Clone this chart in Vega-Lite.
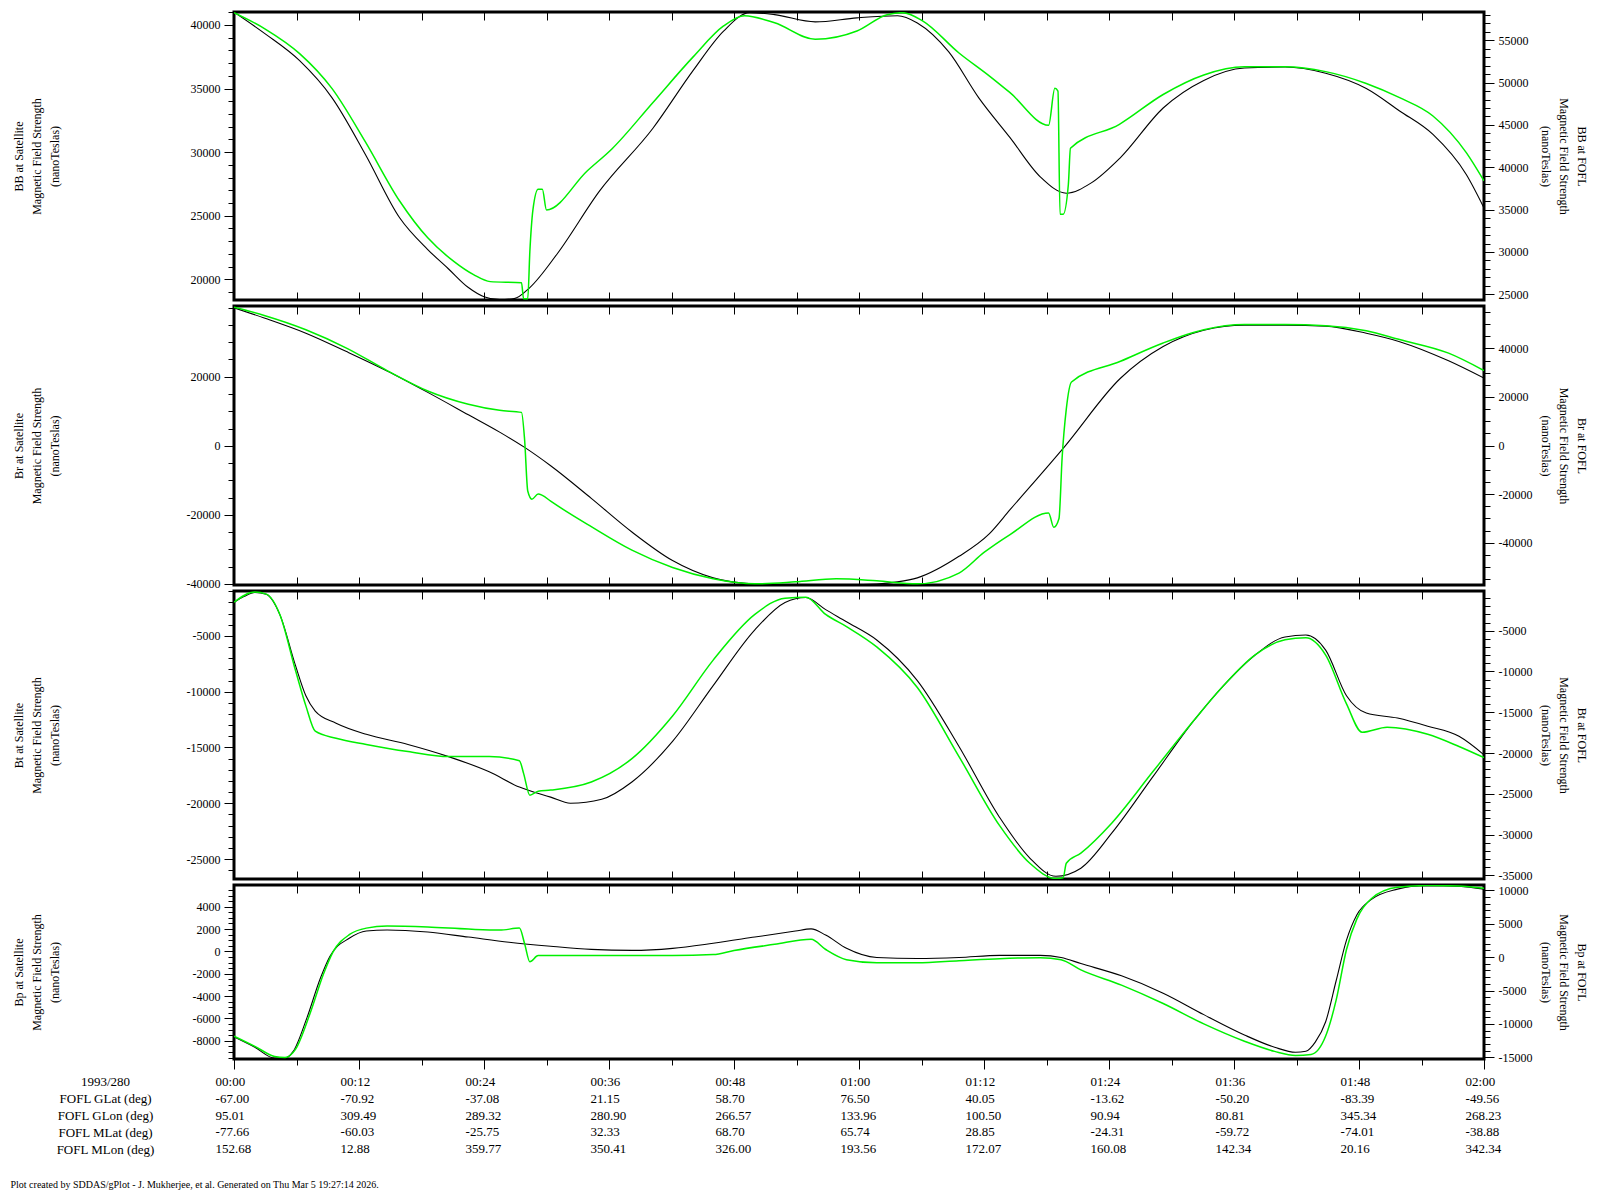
{
  "$schema": "https://vega.github.io/schema/vega-lite/v6.json",
  "background": "white",
  "padding": {"left": 10, "top": 4, "right": 5, "bottom": 5},
  "bounds": "flush",
  "spacing": 6,
  "title": {
    "text": "Plot created by SDDAS/gPlot - J. Mukherjee, et al.  Generated on Thu Mar 5 19:27:14 2026.",
    "orient": "bottom", "anchor": "start", "frame": "bounds",
    "font": "Liberation Serif", "fontSize": 10, "fontWeight": "normal", "color": "black", "offset": 14
  },
  "datasets": {
    "bb_sat": [
      {"t":0,"v":41010},{"t":3.0,"v":39300},{"t":6.3,"v":37190},{"t":9.4,"v":34290},{"t":12.6,"v":29840},{"t":15.9,"v":24840},{"t":18.6,"v":22340},{"t":20.6,"v":20810},{"t":22.5,"v":19350},{"t":24.0,"v":18630},{"t":25.5,"v":18400},{"t":26.9,"v":18480},{"t":28.4,"v":19350},{"t":31.0,"v":21970},{"t":35.1,"v":26950},{"t":40.2,"v":31860},{"t":44.1,"v":36450},{"t":47.0,"v":39520},{"t":49.5,"v":40970},{"t":51.9,"v":40810},{"t":55.8,"v":40240},{"t":59.8,"v":40560},{"t":63.7,"v":40730},{"t":65.6,"v":40160},{"t":68.6,"v":37900},{"t":71.5,"v":34270},{"t":74.5,"v":31140},{"t":77.4,"v":28060},{"t":79.9,"v":26770},{"t":82.3,"v":27580},{"t":85.1,"v":29570},{"t":89.2,"v":33470},{"t":93.1,"v":35640},{"t":97.0,"v":36610},{"t":100.9,"v":36690},{"t":104.8,"v":36200},{"t":108.7,"v":35000},{"t":111.9,"v":33240},{"t":115.1,"v":31390},{"t":118.3,"v":28240},{"t":120,"v":25610}
    ],
    "bb_fofl": [
      {"t":0,"v":58260},{"t":3.0,"v":56330},{"t":6.3,"v":53430},{"t":9.4,"v":49320},{"t":12.6,"v":43030},{"t":15.9,"v":36020},{"t":18.6,"v":31670},{"t":21.1,"v":28890},{"t":23.0,"v":27320},{"t":24.6,"v":26500},{"t":27.6,"v":26380},{"t":27.8,"v":24490},{"t":28.2,"v":24490},{"t":28.4,"v":30000},{"t":28.7,"v":35000},{"t":29.2,"v":37410},{"t":29.6,"v":37410},{"t":30.0,"v":34960},{"t":33.9,"v":39570},{"t":36.3,"v":42200},{"t":40.2,"v":47630},{"t":44.1,"v":53070},{"t":47.0,"v":56690},{"t":49.0,"v":57900},{"t":51.9,"v":57060},{"t":55.8,"v":55120},{"t":59.8,"v":56090},{"t":62.7,"v":58020},{"t":64.2,"v":58260},{"t":66.1,"v":57300},{"t":69.6,"v":53500},{"t":72.5,"v":50800},{"t":74.5,"v":48810},{"t":78.2,"v":44960},{"t":78.8,"v":49330},{"t":79.1,"v":49000},{"t":79.3,"v":34460},{"t":79.6,"v":34460},{"t":80.1,"v":38000},{"t":80.3,"v":42250},{"t":85.0,"v":45080},{"t":89.2,"v":48600},{"t":93.1,"v":50900},{"t":97.0,"v":51860},{"t":100.9,"v":51860},{"t":104.8,"v":51300},{"t":108.7,"v":49900},{"t":111.9,"v":48220},{"t":115.1,"v":46060},{"t":118.3,"v":41730},{"t":120,"v":38390}
    ],
    "br_sat": [
      {"t":0,"v":39940},{"t":2.9,"v":37000},{"t":6.9,"v":32600},{"t":10.8,"v":27260},{"t":14.7,"v":21650},{"t":18.6,"v":15460},{"t":22.5,"v":8970},{"t":25.5,"v":3950},{"t":27.9,"v":-470},{"t":30.4,"v":-5780},{"t":34.3,"v":-15220},{"t":38.2,"v":-24960},{"t":42.1,"v":-33220},{"t":46.0,"v":-38230},{"t":50.0,"v":-40000},{"t":53.9,"v":-40300},{"t":57.8,"v":-40300},{"t":61.7,"v":-40000},{"t":63.7,"v":-39400},{"t":65.6,"v":-38230},{"t":69.6,"v":-32000},{"t":72.5,"v":-25500},{"t":74.5,"v":-18500},{"t":79.8,"v":0},{"t":85.1,"v":19540},{"t":89.2,"v":28730},{"t":93.1,"v":33450},{"t":97.0,"v":34930},{"t":100.9,"v":34930},{"t":104.8,"v":34630},{"t":108.7,"v":32570},{"t":111.9,"v":30140},{"t":116.6,"v":24600},{"t":120,"v":19590}
    ],
    "br_fofl": [
      {"t":0,"v":56930},{"t":2.9,"v":53570},{"t":6.9,"v":47690},{"t":10.8,"v":40130},{"t":14.7,"v":30880},{"t":18.6,"v":22480},{"t":22.5,"v":17020},{"t":25.5,"v":14500},{"t":27.6,"v":13660},{"t":27.9,"v":2310},{"t":28.2,"v":-18700},{"t":28.6,"v":-22060},{"t":29.2,"v":-19960},{"t":29.6,"v":-20500},{"t":30.4,"v":-22900},{"t":34.3,"v":-33400},{"t":38.2,"v":-43070},{"t":42.1,"v":-50210},{"t":46.0,"v":-54830},{"t":50.0,"v":-56930},{"t":53.9,"v":-56090},{"t":57.8,"v":-54830},{"t":61.7,"v":-55670},{"t":65.6,"v":-56930},{"t":69.6,"v":-52500},{"t":72.0,"v":-44000},{"t":74.5,"v":-36630},{"t":78.2,"v":-27740},{"t":78.7,"v":-33620},{"t":79.2,"v":-30000},{"t":79.5,"v":-5000},{"t":79.9,"v":15000},{"t":80.4,"v":26170},{"t":85.1,"v":34690},{"t":89.2,"v":42230},{"t":93.1,"v":47690},{"t":97.0,"v":49790},{"t":100.9,"v":49790},{"t":104.8,"v":49370},{"t":108.7,"v":47270},{"t":111.9,"v":43620},{"t":116.6,"v":38030},{"t":120,"v":30880}
    ],
    "bt_sat": [
      {"t":0,"v":-2000},{"t":1.0,"v":-1450},{"t":2.0,"v":-1090},{"t":3.1,"v":-1270},{"t":4.4,"v":-3090},{"t":5.9,"v":-7640},{"t":6.9,"v":-10360},{"t":7.8,"v":-11730},{"t":9.8,"v":-12820},{"t":12.7,"v":-13820},{"t":16.7,"v":-14730},{"t":20.6,"v":-15820},{"t":24.5,"v":-17180},{"t":27.4,"v":-18550},{"t":30.4,"v":-19450},{"t":32.3,"v":-20000},{"t":35.3,"v":-19640},{"t":38.2,"v":-18090},{"t":42.1,"v":-14450},{"t":46.0,"v":-9450},{"t":50.0,"v":-4450},{"t":52.9,"v":-2000},{"t":54.9,"v":-1550},{"t":56.8,"v":-2640},{"t":58.8,"v":-3730},{"t":61.7,"v":-5360},{"t":65.6,"v":-9000},{"t":69.6,"v":-14910},{"t":73.5,"v":-21270},{"t":76.4,"v":-24910},{"t":78.9,"v":-26550},{"t":81.3,"v":-25820},{"t":84.3,"v":-22640},{"t":88.2,"v":-17640},{"t":92.1,"v":-12640},{"t":95.0,"v":-9450},{"t":98.0,"v":-6730},{"t":100.9,"v":-5090},{"t":102.9,"v":-4910},{"t":104.8,"v":-6270},{"t":106.8,"v":-10360},{"t":108.7,"v":-11910},{"t":111.7,"v":-12360},{"t":114.6,"v":-13090},{"t":117.6,"v":-14000},{"t":120,"v":-15660}
    ],
    "bt_fofl": [
      {"t":0,"v":-1510},{"t":2.0,"v":-270},{"t":3.1,"v":-520},{"t":4.4,"v":-3010},{"t":5.9,"v":-9860},{"t":6.9,"v":-14220},{"t":7.8,"v":-17330},{"t":9.8,"v":-18200},{"t":12.7,"v":-18950},{"t":16.7,"v":-19820},{"t":20.6,"v":-20440},{"t":24.5,"v":-20440},{"t":27.4,"v":-20940},{"t":27.8,"v":-22500},{"t":28.4,"v":-25170},{"t":29.2,"v":-24680},{"t":30.4,"v":-24550},{"t":34.3,"v":-23560},{"t":38.2,"v":-20690},{"t":42.1,"v":-15460},{"t":46.0,"v":-8610},{"t":50.0,"v":-3010},{"t":52.9,"v":-1010},{"t":54.9,"v":-890},{"t":56.8,"v":-3010},{"t":58.8,"v":-4500},{"t":61.7,"v":-6990},{"t":65.6,"v":-11970},{"t":69.6,"v":-20440},{"t":73.5,"v":-28910},{"t":76.4,"v":-33520},{"t":78.9,"v":-35390},{"t":79.6,"v":-35300},{"t":79.9,"v":-33520},{"t":81.3,"v":-32270},{"t":84.3,"v":-28540},{"t":88.2,"v":-22310},{"t":92.1,"v":-16080},{"t":95.0,"v":-11720},{"t":98.0,"v":-7990},{"t":100.9,"v":-6120},{"t":102.9,"v":-5870},{"t":104.8,"v":-7990},{"t":106.8,"v":-13970},{"t":108.3,"v":-17450},{"t":110.7,"v":-16830},{"t":114.6,"v":-17700},{"t":117.6,"v":-19200},{"t":120,"v":-20570}
    ],
    "bp_sat": [
      {"t":0,"v":-7660},{"t":2.0,"v":-8580},{"t":3.9,"v":-9550},{"t":4.9,"v":-9550},{"t":5.7,"v":-8930},{"t":7.0,"v":-5950},{"t":8.3,"v":-2380},{"t":9.2,"v":-450},{"t":11.1,"v":1190},{"t":12.7,"v":1820},{"t":14.7,"v":1920},{"t":18.6,"v":1730},{"t":22.5,"v":1280},{"t":26.4,"v":820},{"t":30.4,"v":460},{"t":34.3,"v":180},{"t":38.2,"v":90},{"t":42.1,"v":270},{"t":46.0,"v":730},{"t":50.0,"v":1280},{"t":53.9,"v":1820},{"t":55.4,"v":2010},{"t":56.8,"v":1460},{"t":58.8,"v":270},{"t":61.7,"v":-550},{"t":65.6,"v":-640},{"t":69.6,"v":-550},{"t":73.5,"v":-360},{"t":77.4,"v":-360},{"t":79.4,"v":-550},{"t":81.3,"v":-1090},{"t":85.2,"v":-2190},{"t":89.2,"v":-3740},{"t":93.1,"v":-5660},{"t":97.0,"v":-7480},{"t":99.9,"v":-8580},{"t":101.9,"v":-9030},{"t":102.9,"v":-8940},{"t":103.8,"v":-8120},{"t":104.8,"v":-6300},{"t":105.8,"v":-2650},{"t":106.8,"v":1000},{"t":107.8,"v":3280},{"t":109.2,"v":4650},{"t":111.7,"v":5570},{"t":114.6,"v":5930},{"t":117.6,"v":5840},{"t":120,"v":5570}
    ],
    "bp_fofl": [
      {"t":0,"v":-11810},{"t":2.0,"v":-13340},{"t":3.9,"v":-14860},{"t":4.9,"v":-15020},{"t":5.9,"v":-13800},{"t":7.3,"v":-8430},{"t":8.6,"v":-2480},{"t":9.5,"v":750},{"t":11.1,"v":3390},{"t":12.7,"v":4340},{"t":14.7,"v":4650},{"t":18.6,"v":4500},{"t":22.5,"v":4190},{"t":25.5,"v":4040},{"t":27.4,"v":4340},{"t":27.9,"v":2000},{"t":28.4,"v":-690},{"t":29.2,"v":230},{"t":34.3,"v":230},{"t":42.1,"v":230},{"t":46.0,"v":380},{"t":48.0,"v":990},{"t":51.9,"v":1910},{"t":55.4,"v":2670},{"t":56.8,"v":1140},{"t":58.8,"v":-380},{"t":61.7,"v":-840},{"t":65.6,"v":-840},{"t":69.6,"v":-530},{"t":73.5,"v":-230},{"t":77.4,"v":-80},{"t":79.4,"v":-380},{"t":81.3,"v":-1910},{"t":85.2,"v":-4190},{"t":89.2,"v":-6940},{"t":93.1,"v":-9990},{"t":97.0,"v":-12580},{"t":99.9,"v":-14100},{"t":101.9,"v":-14710},{"t":103.4,"v":-14560},{"t":104.8,"v":-11810},{"t":105.8,"v":-6480},{"t":106.8,"v":1140},{"t":107.8,"v":5720},{"t":109.2,"v":8770},{"t":111.7,"v":10440},{"t":114.6,"v":10700},{"t":117.6,"v":10650},{"t":120,"v":10290}
    ],
    "ephem": [
      {"t":0,"1993/280":"00:00","FOFL GLat (deg)":"-67.00","FOFL GLon (deg)":"95.01","FOFL MLat (deg)":"-77.66","FOFL MLon (deg)":"152.68"},
      {"t":12,"1993/280":"00:12","FOFL GLat (deg)":"-70.92","FOFL GLon (deg)":"309.49","FOFL MLat (deg)":"-60.03","FOFL MLon (deg)":"12.88"},
      {"t":24,"1993/280":"00:24","FOFL GLat (deg)":"-37.08","FOFL GLon (deg)":"289.32","FOFL MLat (deg)":"-25.75","FOFL MLon (deg)":"359.77"},
      {"t":36,"1993/280":"00:36","FOFL GLat (deg)":"21.15","FOFL GLon (deg)":"280.90","FOFL MLat (deg)":"32.33","FOFL MLon (deg)":"350.41"},
      {"t":48,"1993/280":"00:48","FOFL GLat (deg)":"58.70","FOFL GLon (deg)":"266.57","FOFL MLat (deg)":"68.70","FOFL MLon (deg)":"326.00"},
      {"t":60,"1993/280":"01:00","FOFL GLat (deg)":"76.50","FOFL GLon (deg)":"133.96","FOFL MLat (deg)":"65.74","FOFL MLon (deg)":"193.56"},
      {"t":72,"1993/280":"01:12","FOFL GLat (deg)":"40.05","FOFL GLon (deg)":"100.50","FOFL MLat (deg)":"28.85","FOFL MLon (deg)":"172.07"},
      {"t":84,"1993/280":"01:24","FOFL GLat (deg)":"-13.62","FOFL GLon (deg)":"90.94","FOFL MLat (deg)":"-24.31","FOFL MLon (deg)":"160.08"},
      {"t":96,"1993/280":"01:36","FOFL GLat (deg)":"-50.20","FOFL GLon (deg)":"80.81","FOFL MLat (deg)":"-59.72","FOFL MLon (deg)":"142.34"},
      {"t":108,"1993/280":"01:48","FOFL GLat (deg)":"-83.39","FOFL GLon (deg)":"345.34","FOFL MLat (deg)":"-74.01","FOFL MLon (deg)":"20.16"},
      {"t":120,"1993/280":"02:00","FOFL GLat (deg)":"-49.56","FOFL GLon (deg)":"268.23","FOFL MLat (deg)":"-38.88","FOFL MLon (deg)":"342.34"}
    ]
  },
  "vconcat": [
    {
      "width": 1250,
      "height": 288,
      "layer": [
        {
          "data": {"name": "bb_sat"},
          "mark": {"type": "line", "color": "black", "strokeWidth": 1.1, "interpolate": "monotone", "clip": true},
          "encoding": {
            "x": {"field": "t", "type": "quantitative", "scale": {"domain": [0, 120], "nice": false, "zero": false},
                  "axis": {"orient": "bottom", "values": [0,6,12,18,24,30,36,42,48,54,60,66,72,78,84,90,96,102,108,114,120], "labels": false, "tickSize": -8, "title": null}},
            "y": {"field": "v", "type": "quantitative", "scale": {"domain": [18370, 41020], "nice": false, "zero": false},
                  "axis": {"orient": "left", "values": [19000,20000,21000,22000,23000,24000,25000,26000,27000,28000,29000,30000,31000,32000,33000,34000,35000,36000,37000,38000,39000,40000,41000],
                           "labelExpr": "datum.value % 5000 === 0 ? '' + datum.value : ''",
                           "tickSize": {"condition": {"test": "datum.value % 5000 === 0", "value": 10}, "value": 6},
                           "labelPadding": 4,
                           "title": ["BB at Satellite", "Magnetic Field Strength", "(nanoTeslas)"],
                           "titleX": -209, "titleBaseline": "bottom", "titleLineHeight": 18}}
          }
        },
        {
          "data": {"name": "bb_fofl"},
          "mark": {"type": "line", "color": "#00f000", "strokeWidth": 1.5, "interpolate": "monotone", "clip": true},
          "encoding": {
            "x": {"field": "t", "type": "quantitative",
                  "axis": {"orient": "top", "values": [0,6,12,18,24,30,36,42,48,54,60,66,72,78,84,90,96,102,108,114,120], "labels": false, "tickSize": -8, "title": null}},
            "y": {"field": "v", "type": "quantitative", "scale": {"domain": [24330, 58340], "nice": false, "zero": false},
                  "axis": {"orient": "right", "values": [25000,26000,27000,28000,29000,30000,31000,32000,33000,34000,35000,36000,37000,38000,39000,40000,41000,42000,43000,44000,45000,46000,47000,48000,49000,50000,51000,52000,53000,54000,55000,56000,57000,58000],
                           "labelExpr": "datum.value % 5000 === 0 ? '' + datum.value : ''",
                           "tickSize": {"condition": {"test": "datum.value % 5000 === 0", "value": 10}, "value": 6},
                           "labelPadding": 4,
                           "title": ["BB at FOFL", "Magnetic Field Strength", "(nanoTeslas)"],
                           "titleX": 90, "titleBaseline": "bottom", "titleLineHeight": 18}}
          }
        }
      ],
      "resolve": {"scale": {"y": "independent"}, "axis": {"x": "independent"}}
    },
    {
      "width": 1250,
      "height": 279,
      "layer": [
        {
          "data": {"name": "br_sat"},
          "mark": {"type": "line", "color": "black", "strokeWidth": 1.1, "interpolate": "monotone", "clip": true},
          "encoding": {
            "x": {"field": "t", "type": "quantitative", "scale": {"domain": [0, 120], "nice": false, "zero": false},
                  "axis": {"orient": "bottom", "values": [0,6,12,18,24,30,36,42,48,54,60,66,72,78,84,90,96,102,108,114,120], "labels": false, "tickSize": -8, "title": null}},
            "y": {"field": "v", "type": "quantitative", "scale": {"domain": [-40300, 40460], "nice": false, "zero": false},
                  "axis": {"orient": "left", "values": [-40000,-35000,-30000,-25000,-20000,-15000,-10000,-5000,0,5000,10000,15000,20000,25000,30000,35000,40000],
                           "labelExpr": "datum.value % 20000 === 0 && datum.value < 40000 ? '' + datum.value : ''",
                           "tickSize": {"condition": {"test": "datum.value % 20000 === 0 && datum.value < 40000", "value": 10}, "value": 6},
                           "labelPadding": 4,
                           "title": ["Br at Satellite", "Magnetic Field Strength", "(nanoTeslas)"],
                           "titleX": -209, "titleBaseline": "bottom", "titleLineHeight": 18}}
          }
        },
        {
          "data": {"name": "br_fofl"},
          "mark": {"type": "line", "color": "#00f000", "strokeWidth": 1.5, "interpolate": "monotone", "clip": true},
          "encoding": {
            "x": {"field": "t", "type": "quantitative",
                  "axis": {"orient": "top", "values": [0,6,12,18,24,30,36,42,48,54,60,66,72,78,84,90,96,102,108,114,120], "labels": false, "tickSize": -8, "title": null}},
            "y": {"field": "v", "type": "quantitative", "scale": {"domain": [-57400, 57450], "nice": false, "zero": false},
                  "axis": {"orient": "right", "values": [-55000,-50000,-45000,-40000,-35000,-30000,-25000,-20000,-15000,-10000,-5000,0,5000,10000,15000,20000,25000,30000,35000,40000,45000,50000,55000],
                           "labelExpr": "datum.value % 20000 === 0 ? '' + datum.value : ''",
                           "tickSize": {"condition": {"test": "datum.value % 20000 === 0", "value": 10}, "value": 6},
                           "labelPadding": 4,
                           "title": ["Br at FOFL", "Magnetic Field Strength", "(nanoTeslas)"],
                           "titleX": 90, "titleBaseline": "bottom", "titleLineHeight": 18}}
          }
        }
      ],
      "resolve": {"scale": {"y": "independent"}, "axis": {"x": "independent"}}
    },
    {
      "width": 1250,
      "height": 288,
      "layer": [
        {
          "data": {"name": "bt_sat"},
          "mark": {"type": "line", "color": "black", "strokeWidth": 1.1, "interpolate": "monotone", "clip": true},
          "encoding": {
            "x": {"field": "t", "type": "quantitative", "scale": {"domain": [0, 120], "nice": false, "zero": false},
                  "axis": {"orient": "bottom", "values": [0,6,12,18,24,30,36,42,48,54,60,66,72,78,84,90,96,102,108,114,120], "labels": false, "tickSize": -8, "title": null}},
            "y": {"field": "v", "type": "quantitative", "scale": {"domain": [-26790, -970], "nice": false, "zero": false},
                  "axis": {"orient": "left", "values": [-26000,-25000,-24000,-23000,-22000,-21000,-20000,-19000,-18000,-17000,-16000,-15000,-14000,-13000,-12000,-11000,-10000,-9000,-8000,-7000,-6000,-5000,-4000,-3000,-2000,-1000],
                           "labelExpr": "datum.value % 5000 === 0 ? '' + datum.value : ''",
                           "tickSize": {"condition": {"test": "datum.value % 5000 === 0", "value": 10}, "value": 6},
                           "labelPadding": 4,
                           "title": ["Bt at Satellite", "Magnetic Field Strength", "(nanoTeslas)"],
                           "titleX": -209, "titleBaseline": "bottom", "titleLineHeight": 18}}
          }
        },
        {
          "data": {"name": "bt_fofl"},
          "mark": {"type": "line", "color": "#00f000", "strokeWidth": 1.5, "interpolate": "monotone", "clip": true},
          "encoding": {
            "x": {"field": "t", "type": "quantitative",
                  "axis": {"orient": "top", "values": [0,6,12,18,24,30,36,42,48,54,60,66,72,78,84,90,96,102,108,114,120], "labels": false, "tickSize": -8, "title": null}},
            "y": {"field": "v", "type": "quantitative", "scale": {"domain": [-35450, -135], "nice": false, "zero": false},
                  "axis": {"orient": "right", "values": [-35000,-34000,-33000,-32000,-31000,-30000,-29000,-28000,-27000,-26000,-25000,-24000,-23000,-22000,-21000,-20000,-19000,-18000,-17000,-16000,-15000,-14000,-13000,-12000,-11000,-10000,-9000,-8000,-7000,-6000,-5000,-4000,-3000,-2000,-1000],
                           "labelExpr": "datum.value % 5000 === 0 ? '' + datum.value : ''",
                           "tickSize": {"condition": {"test": "datum.value % 5000 === 0", "value": 10}, "value": 6},
                           "labelPadding": 4,
                           "title": ["Bt at FOFL", "Magnetic Field Strength", "(nanoTeslas)"],
                           "titleX": 90, "titleBaseline": "bottom", "titleLineHeight": 18}}
          }
        }
      ],
      "resolve": {"scale": {"y": "independent"}, "axis": {"x": "independent"}}
    },
    {
      "width": 1250,
      "height": 174,
      "layer": [
        {
          "data": {"name": "bp_sat"},
          "mark": {"type": "line", "color": "black", "strokeWidth": 1.1, "interpolate": "monotone", "clip": true},
          "encoding": {
            "x": {"field": "t", "type": "quantitative", "scale": {"domain": [0, 120], "nice": false, "zero": false},
                  "axis": {"orient": "bottom", "values": [0,6,12,18,24,30,36,42,48,54,60,66,72,78,84,90,96,102,108,114,120], "labels": false,
                           "tickSize": {"condition": {"test": "datum.value % 12 === 0", "value": 10}, "value": 6}, "title": null}},
            "y": {"field": "v", "type": "quantitative", "scale": {"domain": [-9630, 5940], "nice": false, "zero": false},
                  "axis": {"orient": "left", "values": [-9500,-9000,-8500,-8000,-7500,-7000,-6500,-6000,-5500,-5000,-4500,-4000,-3500,-3000,-2500,-2000,-1500,-1000,-500,0,500,1000,1500,2000,2500,3000,3500,4000,4500,5000,5500],
                           "labelExpr": "datum.value % 2000 === 0 ? '' + datum.value : ''",
                           "tickSize": {"condition": {"test": "datum.value % 2000 === 0", "value": 10}, "value": 6},
                           "labelPadding": 4,
                           "title": ["Bp at Satellite", "Magnetic Field Strength", "(nanoTeslas)"],
                           "titleX": -209, "titleBaseline": "bottom", "titleLineHeight": 18}}
          }
        },
        {
          "data": {"name": "bp_fofl"},
          "mark": {"type": "line", "color": "#00f000", "strokeWidth": 1.5, "interpolate": "monotone", "clip": true},
          "encoding": {
            "x": {"field": "t", "type": "quantitative",
                  "axis": {"orient": "top", "values": [0,6,12,18,24,30,36,42,48,54,60,66,72,78,84,90,96,102,108,114,120], "labels": false, "tickSize": -8, "title": null}},
            "y": {"field": "v", "type": "quantitative", "scale": {"domain": [-15240, 10790], "nice": false, "zero": false},
                  "axis": {"orient": "right", "values": [-15000,-14000,-13000,-12000,-11000,-10000,-9000,-8000,-7000,-6000,-5000,-4000,-3000,-2000,-1000,0,1000,2000,3000,4000,5000,6000,7000,8000,9000,10000],
                           "labelExpr": "datum.value % 5000 === 0 ? '' + datum.value : ''",
                           "tickSize": {"condition": {"test": "datum.value % 5000 === 0", "value": 10}, "value": 6},
                           "labelPadding": 4,
                           "title": ["Bp at FOFL", "Magnetic Field Strength", "(nanoTeslas)"],
                           "titleX": 90, "titleBaseline": "bottom", "titleLineHeight": 18}}
          }
        }
      ],
      "resolve": {"scale": {"y": "independent"}, "axis": {"x": "independent"}}
    },
    {
      "width": 1250,
      "height": 101,
      "view": {"stroke": null},
      "data": {"name": "ephem"},
      "transform": [
        {"fold": ["1993/280", "FOFL GLat (deg)", "FOFL GLon (deg)", "FOFL MLat (deg)", "FOFL MLon (deg)"], "as": ["row", "label"]}
      ],
      "mark": {"type": "text", "align": "left", "baseline": "middle", "dx": -18.4, "font": "Liberation Serif", "fontSize": 13, "color": "black"},
      "encoding": {
        "x": {"field": "t", "type": "quantitative", "scale": {"domain": [0, 120], "nice": false, "zero": false}, "axis": null},
        "y": {"field": "row", "type": "ordinal",
              "scale": {"type": "point", "domain": ["1993/280", "FOFL GLat (deg)", "FOFL GLon (deg)", "FOFL MLat (deg)", "FOFL MLon (deg)"], "padding": 1.22},
              "axis": {"orient": "left", "title": null, "domain": false, "ticks": false, "tickSize": 0, "labelAlign": "center", "labelPadding": 129, "labelFontSize": 13}},
        "text": {"field": "label", "type": "nominal"}
      }
    }
  ],
  "config": {
    "font": "Liberation Serif",
    "view": {"stroke": "black", "strokeWidth": 3},
    "axis": {
      "labelFont": "Liberation Serif", "titleFont": "Liberation Serif",
      "labelFontSize": 12, "titleFontSize": 12, "titleFontWeight": "normal",
      "labelColor": "black", "titleColor": "black", "tickColor": "black", "tickWidth": 1,
      "domain": false, "grid": false, "labelOverlap": false, "labelFlush": false
    }
  }
}
